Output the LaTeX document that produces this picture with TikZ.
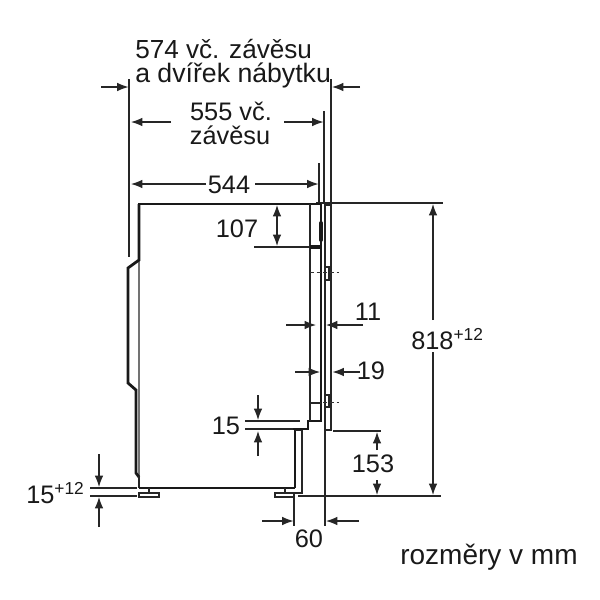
\documentclass[tikz,border=0pt]{standalone}
\usepackage{fontspec}
\setmainfont{Liberation Sans}
\usetikzlibrary{arrows.meta}
\tikzset{
  thinl/.style={line width=0.9pt,draw=black!85},
  ext/.style={line width=0.85pt,draw=black!85},
  thickl/.style={line width=2.1pt,draw=black!90},
  midl/.style={line width=1.25pt,draw=black!85},
  dim/.style={line width=0.9pt,draw=black!85,-{Latex[length=8.5pt,width=6.5pt]}},
  dimb/.style={line width=0.9pt,draw=black!85,{Latex[length=8.5pt,width=6.5pt]}-{Latex[length=8.5pt,width=6.5pt]}},
  lbl/.style={font=\fontsize{19pt}{22pt}\selectfont,inner sep=0pt,text=black!90,align=center},
  screw/.style={line width=0.6pt,draw=black!80,densely dashed}
}
\newcommand{\supr}[1]{\raisebox{7pt}{\fontsize{13pt}{15pt}\selectfont #1}}
\begin{document}
\begin{tikzpicture}[x=0.75pt,y=-0.75pt]
\useasboundingbox (0,0) rectangle (600,600);
% extension lines
\draw[ext] (129,79) -- (129,257);
\draw[ext] (331,79) -- (331,204);
\draw[ext] (324,111) -- (324,204);
\draw[ext] (319,163) -- (319,204);
\draw[ext] (316,203) -- (443,203);
\draw[ext] (254,247) -- (310,247);
\draw[ext] (245,421) -- (300,421);
\draw[ext] (245,429) -- (293,429);
\draw[ext] (333,431) -- (381,431);
\draw[ext] (298,496) -- (441,496);
\draw[ext] (325,430) -- (325,526);
\draw[ext] (294,497) -- (294,526);
\draw[ext] (90,488) -- (137,488);
\draw[ext] (90,496) -- (137,496);
% machine body
\draw[line width=0.9pt,draw=black!55] (139,204) -- (139,476);
\draw[thickl] (139,204) -- (139,260) -- (128,268) -- (128,383) -- (136,390) -- (136,473) -- (139,477);
\draw[midl] (139,476) -- (139,488);
\draw[thickl] (138,204) -- (321,204);
\draw[thickl] (138.5,488) -- (295,488);
\draw[thickl] (295,487.5) -- (295,430);
\draw[thinl] (295,430) -- (302,430) -- (302,493) -- (295,493);
\draw[thickl] (293,429) -- (308,429) -- (308,421) -- (321,421) -- (321,204);
\draw[midl] (310,204) -- (310,421);
\draw[line width=3pt,draw=black!90] (310,247) -- (321,247);
\draw[line width=3pt,draw=black!90,line cap=round] (321,223) -- (321,240);
% panel
\draw[midl] (325,205) rectangle (331,430);
% screws
\draw[thinl] (325,267) rectangle (329,280);
\draw[screw] (310,272) -- (339,272);
\draw[thinl] (325,395) rectangle (329,407);
\draw[screw] (310,402) -- (339,402);
\draw[thinl] (310,403) -- (321,403);
% feet
\draw[midl,fill=white] (139,493) rectangle (159,497);
\draw[midl] (149,488) -- (149,493);
\draw[midl,fill=white] (275,493) rectangle (294,497);
\draw[midl] (285,488) -- (285,493);
% dimension arrows
\draw[dim] (101,87) -- (128.5,87);
\draw[dim] (360,87) -- (332,87);
\draw[dim] (171,122) -- (131,122);
\draw[dim] (284,122) -- (323.5,122);
\draw[dim] (206,184) -- (131,184);
\draw[dim] (255,184) -- (318.5,184);
\draw[dimb] (277,205) -- (277,246);
\draw[dim] (286,325) -- (316,325);
\draw[dim] (363,325) -- (326,325);
\draw[dim] (295,372) -- (320,372);
\draw[dim] (360,372) -- (332.5,372);
\draw[dim] (258,395) -- (258,420);
\draw[dim] (258,456) -- (258,431);
\draw[dim] (377,450) -- (377,432);
\draw[dim] (377,480) -- (377,495);
\draw[dim] (433,320) -- (433,204);
\draw[dim] (433,352) -- (433,495);
\draw[dim] (262,521) -- (293.5,521);
\draw[dim] (359,521) -- (326,521);
\draw[dim] (99,454) -- (99,487);
\draw[dim] (99,527) -- (99,497);
% labels
\node[lbl,anchor=west,font=\fontsize{19.6pt}{22pt}\selectfont] (a) at (135,49) {574 vč. závěsu};
\node[lbl,anchor=west,font=\fontsize{20pt}{22pt}\selectfont] (b) at (135,75) {a dvířek nábytku};
\node[lbl] (c) at (231,111) {555 vč.};
\node[lbl] (d) at (230,135) {závěsu};
\node[lbl] (e) at (229,185) {544};
\node[lbl] (f) at (237,229) {107};
\node[lbl] (g) at (368,312) {11};
\node[lbl] (h) at (371,371) {19};
\node[lbl] (i) at (226,426) {15};
\node[lbl] (j) at (373,464) {153};
\node[lbl,anchor=west] (k) at (411,339) {818\supr{+12}};
\node[lbl,anchor=west] (l) at (26,493) {15\supr{+12}};
\node[lbl] (m) at (309,539) {60};
\node[lbl,font=\fontsize{21pt}{24pt}\selectfont] (n) at (489,557) {rozměry v mm};
\end{tikzpicture}
\end{document}
